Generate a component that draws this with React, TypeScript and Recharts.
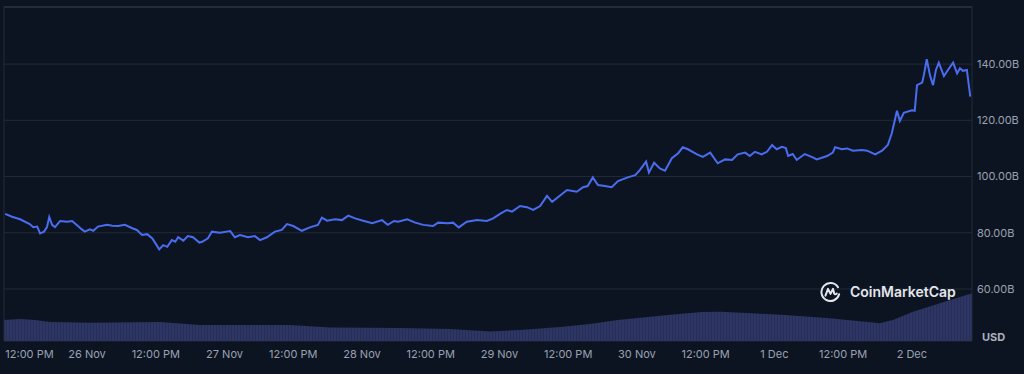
import React from 'react';
import {
  ComposedChart,
  Line,
  Area,
  XAxis,
  YAxis,
  CartesianGrid,
  ReferenceLine,
} from 'recharts';

// hours relative to 26 Nov 00:00
const priceHours = [
  -14.3, -13.1, -11.7, -10.0, -9.4, -8.7, -8.2, -7.5, -7.0, -6.6,
  -6.1, -5.6, -4.7, -3.5, -2.6, -1.8, -0.9, -0.4, 0.5, 1.1,
  1.9, 3.5, 4.4, 5.4, 6.6, 7.9, 8.7, 9.6, 10.5, 11.4,
  12.6, 13.3, 14.0, 14.8, 15.4, 15.9, 16.8, 17.6, 18.5, 19.6,
  20.1, 21.1, 21.8, 23.2, 25.0, 25.8, 26.7, 28.1, 29.3, 30.2,
  31.4, 32.8, 34.0, 34.9, 36.0, 37.5, 38.9, 40.3, 41.0, 41.9,
  43.3, 44.5, 45.6, 46.8, 48.2, 49.8, 51.5, 52.5, 53.6, 54.3,
  55.9, 57.3, 58.7, 60.4, 61.3, 63.0, 63.9, 64.9, 66.3, 68.1,
  69.8, 70.9, 72.1, 73.3, 74.2, 75.6, 76.8, 77.9, 79.1, 80.3,
  81.2, 82.2, 83.8, 85.5, 86.6, 87.4, 88.3, 89.2, 90.4, 91.6,
  92.7, 94.4, 95.7, 96.5, 97.6, 98.1, 99.0, 100.0, 100.9, 102.1,
  103.2, 104.0, 104.9, 106.5, 107.5, 108.8, 110.1, 111.4, 112.6, 113.6,
  114.9, 115.7, 116.6, 117.8, 118.7, 119.6, 120.4, 121.3, 122.0, 122.4,
  123.2, 123.9, 125.3, 126.7, 127.4, 129.2, 130.2, 130.6, 131.8, 132.7,
  133.7, 135.3, 136.2, 137.6, 138.8, 139.8, 140.5, 141.4, 141.9, 142.6,
  144.0, 144.5, 144.9, 145.8, 146.1, 146.6, 147.2, 147.7, 148.2, 148.7,
  149.6, 150.3, 151.2, 151.9, 152.4, 152.9, 153.6, 154.2,
];

// market cap, billions USD
const priceValues = [
  86.7, 85.7, 84.8, 83.1, 82.0, 82.2, 79.8, 80.4, 82.0, 85.6,
  82.8, 82.0, 84.2, 83.9, 84.2, 82.8, 81.2, 80.4, 81.2, 80.7,
  82.2, 82.8, 82.5, 82.4, 82.8, 81.6, 81.0, 79.2, 79.5, 78.0,
  74.1, 75.6, 75.0, 77.4, 76.8, 78.4, 77.2, 78.8, 78.4, 76.5,
  76.8, 78.0, 80.4, 80.0, 80.6, 78.4, 79.2, 78.4, 78.8, 77.4,
  78.4, 80.4, 81.0, 83.1, 82.4, 80.7, 81.9, 82.8, 85.4, 84.3,
  84.8, 84.5, 86.1, 85.1, 84.3, 83.4, 84.5, 82.8, 84.2, 83.9,
  84.8, 83.6, 82.8, 82.4, 83.6, 83.4, 83.6, 81.9, 83.9, 84.5,
  84.2, 85.1, 86.7, 88.1, 87.5, 89.5, 89.1, 88.1, 89.5, 93.1,
  91.0, 92.6, 95.2, 94.6, 96.2, 96.6, 99.7, 97.0, 96.6, 96.2,
  98.4, 99.7, 100.5, 102.3, 105.3, 101.4, 104.9, 102.9, 102.1, 106.5,
  108.3, 110.4, 109.7, 107.9, 107.0, 108.5, 104.7, 106.1, 105.9, 107.9,
  108.5, 107.3, 108.8, 107.9, 108.8, 111.2, 109.7, 110.6, 110.1, 107.3,
  108.0, 105.9, 108.0, 106.8, 106.1, 107.3, 108.5, 110.4, 109.7, 110.0,
  109.2, 109.4, 109.2, 107.9, 109.2, 111.2, 115.4, 123.4, 119.8, 122.7,
  123.6, 123.4, 132.5, 133.4, 136.1, 141.7, 135.7, 132.5, 137.9, 140.5,
  135.7, 137.9, 140.5, 136.7, 138.5, 137.6, 137.9, 128.4,
];

// 24h volume, billions USD
const volumeHours = [
  -14.5, -11.7, -9.1, -6.5, 0.5, 12.7, 19.7, 35.4, 42.4, 54.6,
  63.4, 70.3, 75.6, 82.6, 87.8, 92.7, 101.4, 107.3, 110.5, 116.1,
  121.8, 129.7, 138.4, 140.7, 144.2, 148.9, 154.5,
];
const volumeValues = [
  12.6, 13.2, 12.6, 11.4, 11.0, 11.4, 9.6, 9.6, 8.1, 7.8,
  7.2, 5.7, 6.6, 8.4, 10.2, 12.6, 15.6, 17.4, 17.5, 16.6,
  15.6, 13.6, 10.6, 12.6, 17.5, 22.6, 28.6,
];

const xTicks = [-12, 0, 12, 24, 36, 48, 60, 72, 84, 96, 108, 120, 132, 144];
const xTickLabels = [
  '12:00 PM', '26 Nov', '12:00 PM', '27 Nov', '12:00 PM', '28 Nov', '12:00 PM',
  '29 Nov', '12:00 PM', '30 Nov', '12:00 PM', '1 Dec', '12:00 PM', '2 Dec',
];
const yTicks = [60, 80, 100, 120, 140];

const priceData = priceHours.map((h, i) => ({ h, cap: priceValues[i] }));
const volumeData = volumeHours.map((h, i) => ({ h, vol: volumeValues[i] }));

const BG = '#0d1421';
const GRID = '#222a37';
const TEXT = '#9aa1b1';
const FONT = 'Inter, "Noto Sans", sans-serif';

const XTick = (props: any) => {
  const { x, y, payload, index } = props;
  const i = xTicks.indexOf(payload.value);
  const label = i >= 0 ? xTickLabels[i] : '';
  const first = index === 0;
  return (
    <text
      x={first ? x - 13 : x}
      y={y}
      dy="0.35em"
      textAnchor={first ? 'start' : 'middle'}
      fill={TEXT}
      fontSize={11}
      fontFamily={FONT}
    >
      {label}
    </text>
  );
};

const Logo = () => (
  <div
    style={{
      position: 'absolute',
      left: 819,
      top: 281,
      display: 'flex',
      alignItems: 'center',
      gap: 8,
      color: '#e3e6ec',
      fontFamily: FONT,
      fontWeight: 600,
      fontSize: 14,
      lineHeight: '22px',
    }}
  >
    <svg width={23} height={22} viewBox="0 0 24 24">
      <path
        d="M20.2 6.8 A9.8 9.8 0 1 0 21.4 14.5"
        fill="none"
        stroke="#e3e6ec"
        strokeWidth={2.2}
        strokeLinecap="round"
      />
      <path
        d="M6.5 16 L9.3 8.6 L12 14 L14.7 8.6 L16 13.5 Q16.8 15.5 18.8 13.6"
        fill="none"
        stroke="#e3e6ec"
        strokeWidth={2.2}
        strokeLinecap="round"
        strokeLinejoin="round"
      />
    </svg>
    <span>CoinMarketCap</span>
  </div>
);

export default function App() {
  return (
    <div
      style={{
        position: 'absolute',
        left: 0,
        top: 0,
        width: 1024,
        height: 374,
        background: BG,
        overflow: 'hidden',
      }}
    >
      <ComposedChart
        width={1024}
        height={374}
        margin={{ top: 7, right: 0, bottom: 3, left: 4 }}
      >
        <defs>
          <pattern id="volStripes" width="3" height="8" patternUnits="userSpaceOnUse">
            <rect width="3" height="8" fill="#2d3664" />
            <rect width="1" height="8" fill="#262e56" />
          </pattern>
        </defs>
        <CartesianGrid horizontal vertical={false} stroke={GRID} yAxisId="cap" />
        <XAxis
          type="number"
          dataKey="h"
          domain={[-14.5, 154.5]}
          ticks={xTicks}
          allowDataOverflow
          axisLine={false}
          tickLine={false}
          tickSize={0}
          tickMargin={13}
          height={30}
          interval={0}
          tick={<XTick />}
        />
        <YAxis
          yAxisId="cap"
          orientation="right"
          domain={[41.5, 160.3]}
          ticks={yTicks}
          allowDataOverflow
          width={52}
          axisLine={{ stroke: GRID }}
          tickLine={false}
          tickSize={0}
          tickMargin={5}
          tickFormatter={(v: number) => `${v.toFixed(2)}B`}
          tick={{ fill: TEXT, fontSize: 11, fontFamily: FONT }}
        />
        <YAxis yAxisId="vol" hide domain={[0, 200]} />
        <ReferenceLine yAxisId="cap" y={160.3} stroke="#2a3240" strokeWidth={1.5} />
        <ReferenceLine yAxisId="cap" x={-14.5} stroke={GRID} />
        <Area
          yAxisId="vol"
          data={volumeData}
          dataKey="vol"
          type="linear"
          stroke="none"
          fill="url(#volStripes)"
          fillOpacity={1}
          isAnimationActive={false}
        />
        <Line
          yAxisId="cap"
          data={priceData}
          dataKey="cap"
          type="linear"
          stroke="#4a6cf0"
          strokeWidth={2}
          dot={false}
          activeDot={false}
          isAnimationActive={false}
        />
      </ComposedChart>
      <Logo />
      <div
        style={{
          position: 'absolute',
          left: 982,
          top: 330,
          fontFamily: FONT,
          fontSize: 11,
          fontWeight: 700,
          color: '#aab0bf',
          lineHeight: '14px',
        }}
      >
        USD
      </div>
    </div>
  );
}
